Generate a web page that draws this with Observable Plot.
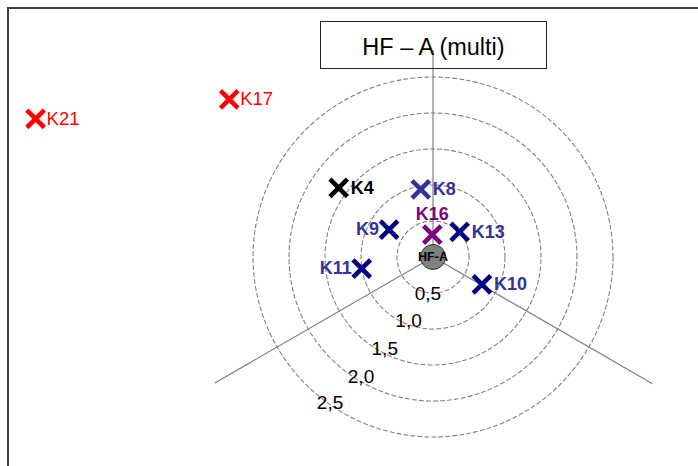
<!DOCTYPE html>
<html><head><meta charset="utf-8">
<script src="https://cdn.jsdelivr.net/npm/d3@7"></script>
<script src="https://cdn.jsdelivr.net/npm/@observablehq/plot@0.6"></script>
<style>
html,body{margin:0;padding:0;background:#fff;overflow:hidden;}
#wrap{position:relative;width:698px;height:466px;overflow:hidden;}
#frame{position:absolute;left:7px;top:7px;width:900px;height:900px;border:2px solid #404040;box-sizing:border-box;}
#chart{position:absolute;left:0;top:0;}
#title{position:absolute;left:320px;top:21px;width:227px;height:48px;border:1.5px solid #222;box-sizing:border-box;
  font-family:"Liberation Sans",Arial,sans-serif;font-size:23.5px;color:#000;display:flex;align-items:center;justify-content:center;padding-top:4px;}
</style></head>
<body>
<div id="wrap"><div id="frame"></div><div id="chart"></div><div id="title"></div></div>
<script>
// ---- data ----
const title = "HF – A (multi)";
const centerLabel = "HF-A";
const names = ["K21","K17","K4","K8","K16","K13","K9","K11","K10"];
const xs = [-5.52,-2.83,-1.31,-0.17,-0.01,0.37,-0.61,-0.99,0.68];
const ys = [1.92,2.19,0.96,0.94,0.31,0.35,0.38,-0.16,-0.38];
const ringValues = [0.5,1.0,1.5,2.0,2.5];
const ringLabels = ["0,5","1,0","1,5","2,0","2,5"];
const ringLabelX = [-0.07,-0.34,-0.67,-1.00,-1.43];
const ringLabelY = [-0.51,-0.89,-1.28,-1.67,-2.03];
const axisAngles = [90,210,330];
const axisLengths = [2.87,3.5,3.52];

// ---- styles ----
const markerColor = {K21:"#ff0000",K17:"#ff0000",K4:"#000000",K8:"#333399",K16:"#800080",K13:"#000080",K9:"#000080",K11:"#000080",K10:"#000080"};
const labelColor = {K21:"#ff0000",K17:"#ff0000",K4:"#000000",K8:"#333399",K16:"#800080",K13:"#333399",K9:"#333399",K11:"#333399",K10:"#333399"};
const leftLabels = new Set(["K9","K11"]);
const topLabels = new Set(["K16"]);
const plainLabels = new Set(["K21","K17"]);

const points = names.map((n,i)=>({name:n,x:xs[i],y:ys[i]}));
const rings = ringValues.flatMap(r => d3.range(0,361,2).map(a=>({r, x:r*Math.cos(a*Math.PI/180), y:r*Math.sin(a*Math.PI/180)})));
const axes = axisAngles.map((a,i)=>({x2:axisLengths[i]*Math.cos(a*Math.PI/180), y2:axisLengths[i]*Math.sin(a*Math.PI/180)}));
const ringText = ringLabels.map((t,i)=>({t,x:ringLabelX[i],y:ringLabelY[i]}));

const W=698,H=466,cx=432.5,cy=256.5,unit=72;
const font = "Liberation Sans, Arial, sans-serif";

const plot = Plot.plot({
  width:W, height:H, margin:0,
  style:{fontFamily:font, background:"transparent", overflow:"visible"},
  x:{domain:[-cx/unit,(W-cx)/unit], range:[0,W], axis:null},
  y:{domain:[-(H-cy)/unit, cy/unit], range:[H,0], axis:null},
  marks:[
    Plot.line(rings,{x:"x",y:"y",z:"r",stroke:"#808080",strokeWidth:1.1,strokeDasharray:"4,3"}),
    Plot.link(axes,{x1:0,y1:0,x2:"x2",y2:"y2",stroke:"#808080",strokeWidth:1.2}),
    Plot.text(ringText,{x:"x",y:"y",text:"t",fontSize:19,fill:"#000",textAnchor:"middle",lineAnchor:"middle"}),
    Plot.dot([{x:0,y:0}],{x:"x",y:"y",r:12.5,fill:"#808080",stroke:"#333",strokeWidth:1}),
    Plot.text([{x:0,y:0}],{x:"x",y:"y",text:()=>centerLabel,fontSize:12.5,fontWeight:"bold",fill:"#000",lineAnchor:"middle"}),
    Plot.dot(points,{x:"x",y:"y",symbol:"times",r:8,stroke:d=>markerColor[d.name],strokeWidth:4.6}),
    Plot.text(points.filter(d=>!leftLabels.has(d.name)&&!topLabels.has(d.name)&&!plainLabels.has(d.name)),
      {x:"x",y:"y",text:"name",fill:d=>labelColor[d.name],fontSize:18,fontWeight:"bold",textAnchor:"start",dx:12,lineAnchor:"middle"}),
    Plot.text(points.filter(d=>plainLabels.has(d.name)),
      {x:"x",y:"y",text:"name",fill:d=>labelColor[d.name],fontSize:18.5,textAnchor:"start",dx:11,lineAnchor:"middle"}),
    Plot.text(points.filter(d=>leftLabels.has(d.name)),
      {x:"x",y:"y",text:"name",fill:d=>labelColor[d.name],fontSize:18,fontWeight:"bold",textAnchor:"end",dx:-10,lineAnchor:"middle"}),
    Plot.text(points.filter(d=>topLabels.has(d.name)),
      {x:"x",y:"y",text:"name",fill:d=>labelColor[d.name],fontSize:18,fontWeight:"bold",textAnchor:"middle",dy:-20,lineAnchor:"middle"})
  ]
});
document.getElementById("chart").appendChild(plot);
document.getElementById("title").textContent = title;
</script>
</body></html>
